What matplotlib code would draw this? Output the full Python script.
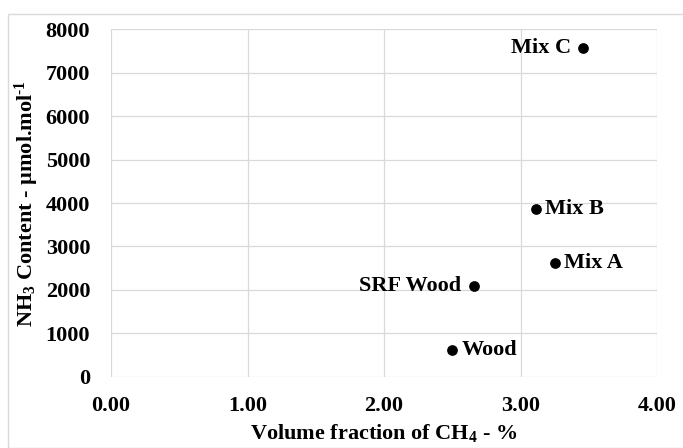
import matplotlib
matplotlib.use("Agg")
import matplotlib.pyplot as plt
from matplotlib.patches import Rectangle

names = ["Mix C", "Mix B", "Mix A", "SRF Wood", "Wood"]
ch4 = [3.46, 3.11, 3.25, 2.66, 2.50]
nh3 = [7580, 3860, 2610, 2100, 620]
label_side = ["left", "right", "right", "left", "right"]

plt.rcParams['font.family'] = ['Liberation Serif', 'DejaVu Serif']
plt.rcParams['font.weight'] = 'bold'
plt.rcParams['mathtext.fontset'] = 'custom'
plt.rcParams['mathtext.rm'] = 'Liberation Serif:bold'
plt.rcParams['mathtext.bf'] = 'Liberation Serif:bold'
plt.rcParams['mathtext.it'] = 'Liberation Serif:bold'
plt.rcParams['mathtext.default'] = 'bf'

FS = 16

fig = plt.figure(figsize=(6.83, 4.48), dpi=100)
fig.patches.append(Rectangle((8/683, 0), 1, 1 - 14/448, transform=fig.transFigure,
                             fill=False, edgecolor='#d9d9d9', lw=1))
ax = fig.add_axes([0.1625, 0.159, 0.962 - 0.1625, 0.9346 - 0.159])
ax.scatter(ch4, nh3, s=45, color='black', zorder=3)
for n, x, y, side in zip(names, ch4, nh3, label_side):
    if side == "left":
        ax.annotate(n, (x, y), xytext=(-9, 0), textcoords='offset points',
                    ha='right', va='center', fontsize=FS, fontweight='bold')
    else:
        ax.annotate(n, (x, y), xytext=(7, 0), textcoords='offset points',
                    ha='left', va='center', fontsize=FS, fontweight='bold')

ax.set_xlim(0, 4)
ax.set_ylim(0, 8000)
ax.set_xticks([0, 1, 2, 3, 4])
ax.set_xticklabels(["0.00", "1.00", "2.00", "3.00", "4.00"])
ax.set_yticks(range(0, 8001, 1000))
ax.tick_params(axis='both', length=0, labelsize=FS)
ax.tick_params(axis='x', pad=14)
ax.tick_params(axis='y', pad=15)
for s in ax.spines.values():
    s.set_visible(False)
ax.grid(True, color='#d9d9d9', lw=0.9)
ax.set_axisbelow(True)
ax.set_xlabel(r"Volume fraction of CH$_{4}$ - %", fontsize=FS, fontweight='bold', labelpad=4)
ax.set_ylabel(r"NH$_{3}$ Content - µmol.mol$^{\text{-1}}$", fontsize=FS, fontweight='bold', labelpad=3)
fig.savefig("out.png", dpi=100)
